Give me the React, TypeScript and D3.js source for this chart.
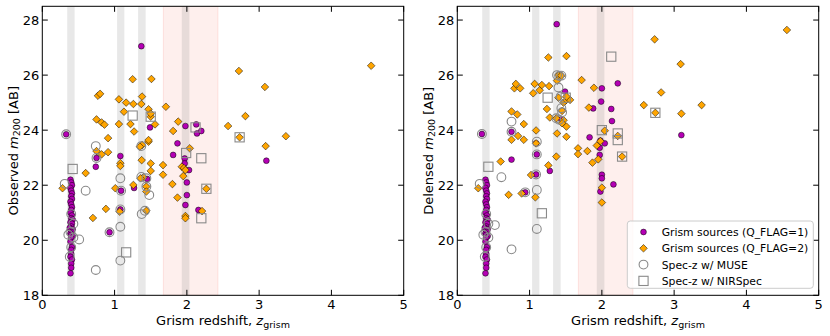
import React from "react";
import * as d3 from "d3";

// ---------- DATA ----------
const xTicks = [0, 1, 2, 3, 4, 5];
const yTicks = [18, 20, 22, 24, 26, 28];
const grayBands: [number, number][] = [[0.345, 0.447], [1.035, 1.135], [1.325, 1.43], [1.93, 2.035]];
const pinkBand: [number, number] = [1.675, 2.43];

// low-z cluster (same population in both panels)
const clusterQ1: [number, number][] = [
  [0.39, 22.2], [0.40, 22.1], [0.41, 22.0], [0.39, 21.9], [0.40, 21.8], [0.41, 21.7], [0.40, 21.6],
  [0.41, 21.5], [0.39, 21.4], [0.40, 21.3], [0.41, 21.2], [0.40, 21.1], [0.39, 21.0], [0.41, 20.9],
  [0.40, 20.8], [0.42, 20.75], [0.39, 20.65], [0.41, 20.6], [0.40, 20.5], [0.38, 20.45], [0.42, 20.4],
  [0.40, 20.35], [0.41, 20.3], [0.39, 20.25], [0.40, 20.2], [0.42, 20.15], [0.40, 20.1], [0.39, 19.95],
  [0.41, 19.75], [0.40, 19.65], [0.40, 19.5], [0.39, 19.4], [0.41, 19.3], [0.40, 19.15], [0.40, 19.0],
  [0.39, 18.8],
];
const clusterMuse: [number, number][] = [
  [0.31, 22.05], [0.40, 20.95], [0.43, 20.6], [0.39, 20.3], [0.36, 20.2], [0.43, 20.1],
  [0.40, 19.75], [0.38, 19.4],
];

// Left panel: observed magnitudes
const obsQ1: [number, number][] = [
  [0.33, 23.85], [0.75, 22.99], [0.74, 22.67], [0.93, 20.29], [1.08, 23.06], [1.09, 21.8], [1.08, 21.12],
  [1.27, 21.9], [1.37, 27.05], [1.45, 22.23], [1.49, 24.1], [1.87, 23.52], [1.81, 23.1], [1.98, 24.15],
  [1.97, 22.97], [1.97, 22.79], [2.03, 22.55], [2.0, 22.1], [2.0, 21.64], [1.98, 21.28], [2.13, 24.21],
  [2.14, 23.88], [2.2, 23.97], [2.16, 21.1], [3.1, 22.89],
];
const obsQ2: [number, number][] = [
  [0.28, 21.89], [0.60, 22.44], [0.70, 20.81], [0.75, 24.39], [0.77, 25.25], [0.80, 25.32], [0.75, 23.24],
  [0.82, 23.12], [0.82, 24.28], [0.86, 24.2], [0.91, 23.71], [0.91, 23.2], [0.88, 21.14], [1.01, 21.89],
  [1.06, 25.12], [1.06, 24.22], [1.08, 22.8], [1.08, 22.7], [1.07, 21.04], [1.13, 24.67], [1.16, 25.0],
  [1.22, 24.22], [1.25, 25.85], [1.26, 24.95], [1.27, 23.95], [1.26, 22.01], [1.37, 24.95], [1.38, 25.22],
  [1.375, 22.91], [1.38, 23.46], [1.47, 23.58], [1.35, 23.4], [1.40, 22.29], [1.36, 22.25], [1.47, 23.64],
  [1.47, 24.76], [1.50, 24.49], [1.50, 24.6], [1.51, 25.86], [1.56, 24.21], [1.50, 22.79], [1.50, 22.52],
  [1.44, 21.95], [1.44, 21.77], [1.44, 21.07], [1.67, 22.73], [1.67, 22.38], [1.71, 24.85], [1.81, 23.97],
  [1.88, 24.31], [1.80, 22.04], [1.87, 21.55], [1.93, 22.67], [1.96, 22.62], [1.95, 22.33], [1.98, 22.55],
  [1.98, 20.88], [1.98, 20.8], [2.04, 23.34], [2.21, 21.06], [2.27, 21.87], [2.72, 26.15], [3.08, 25.57],
  [2.81, 24.51], [2.57, 24.15], [2.73, 23.74], [3.37, 23.78], [3.09, 23.42], [4.55, 26.34],
];
const obsMuse: [number, number][] = [
  [0.33, 23.85], [0.51, 20.03], [0.60, 21.8], [0.74, 23.42], [0.75, 22.99], [0.74, 18.92], [0.93, 20.29],
  [1.08, 22.25], [1.09, 21.8], [1.08, 21.12], [1.08, 20.49], [1.08, 19.26], [1.37, 23.42], [1.37, 22.3],
  [1.44, 22.25], [1.44, 21.95], [1.48, 21.64], [1.42, 21.07], [1.375, 20.95],
];
const obsNirspec: [number, number][] = [
  [0.42, 22.59], [1.16, 19.56], [1.25, 24.53], [1.50, 24.49], [1.99, 23.17], [2.12, 24.1], [2.20, 22.98],
  [2.20, 20.8], [2.27, 21.87], [2.73, 23.74],
];

// Right panel: delensed magnitudes
const delQ1: [number, number][] = [
  [0.34, 23.86], [0.75, 23.94], [0.75, 22.93], [0.94, 21.74], [1.09, 23.52], [1.10, 23.12], [1.09, 22.39],
  [1.28, 22.52], [1.375, 27.85], [1.49, 25.4], [1.44, 24.39], [1.83, 23.74], [1.88, 24.79], [2.0, 25.52],
  [1.99, 25.04], [1.98, 23.62], [2.04, 23.52], [1.97, 23.36], [1.97, 23.1], [2.0, 22.38], [2.0, 22.25],
  [1.98, 21.77], [2.16, 22.03], [2.13, 24.77], [2.14, 24.33], [2.22, 25.7], [3.10, 23.82],
];
const delQ2: [number, number][] = [
  [0.29, 21.89], [0.60, 22.86], [0.71, 21.65], [0.75, 24.68], [0.75, 23.65], [0.79, 25.52], [0.81, 25.68],
  [0.83, 24.57], [0.84, 23.79], [0.87, 25.52], [0.92, 24.22], [0.92, 23.65], [0.89, 21.7], [1.02, 22.37],
  [1.07, 25.68], [1.05, 25.34], [1.09, 23.99], [1.09, 23.52], [1.08, 21.56], [1.14, 25.45], [1.17, 25.64],
  [1.24, 24.77], [1.26, 26.64], [1.27, 25.6], [1.28, 24.46], [1.26, 22.72], [1.37, 23.04], [1.38, 23.88],
  [1.37, 24.43], [1.40, 26.0], [1.38, 25.8], [1.44, 25.98], [1.40, 25.18], [1.45, 24.7], [1.47, 24.36],
  [1.45, 24.25], [1.47, 25.0], [1.51, 23.76], [1.51, 24.13], [1.51, 26.69], [1.51, 25.1], [1.56, 25.1],
  [1.51, 25.22], [1.67, 23.34], [1.67, 23.13], [1.72, 25.82], [1.80, 23.24], [1.82, 24.82], [1.87, 22.82],
  [1.89, 25.54], [1.93, 23.44], [1.95, 22.94], [1.98, 23.6], [2.0, 21.91], [2.0, 21.37], [2.04, 23.98],
  [2.22, 23.79], [2.28, 23.04], [2.73, 27.3], [3.09, 26.4], [2.82, 25.37], [2.58, 24.91], [2.74, 24.63],
  [3.38, 24.91], [3.10, 24.6], [4.56, 27.64],
];
const delMuse: [number, number][] = [
  [0.34, 23.86], [0.52, 20.55], [0.61, 22.29], [0.75, 24.31], [0.75, 23.94], [0.75, 19.67], [0.94, 21.74],
  [1.10, 23.58], [1.10, 23.12], [1.09, 22.39], [1.10, 21.83], [1.10, 20.41], [1.38, 26.0], [1.41, 25.97],
  [1.44, 25.98], [1.40, 25.55], [1.43, 25.22], [1.44, 24.8], [1.45, 24.65], [1.37, 24.43], [1.41, 24.38],
];
const delNirspec: [number, number][] = [
  [0.43, 22.67], [1.17, 20.98], [1.25, 25.18], [1.50, 25.18], [2.13, 26.67], [2.00, 24.0], [2.22, 23.88],
  [2.22, 23.64], [2.28, 23.04], [2.74, 24.63],
];

const legendLabels = [
  "Grism sources (Q_FLAG=1)",
  "Grism sources (Q_FLAG=2)",
  "Spec-z w/ MUSE",
  "Spec-z w/ NIRSpec",
];

// ---------- STYLE ----------
const FONT = "DejaVu Sans, Verdana, sans-serif";
const PURPLE = "#b400b4";
const ORANGE = "#ffa500";
const RING = "#8a8a8a";
const TOP = 6.3;
const BOTTOM = 295.3;

const diamond = (s: number) => `M0,${-s}L${s},0L0,${s}L${-s},0Z`;

type PanelProps = {
  x0: number;
  x1: number;
  label: string;
  q1: [number, number][];
  q2: [number, number][];
  muse: [number, number][];
  nirspec: [number, number][];
  legend?: boolean;
};

function Panel({ x0, x1, label, q1, q2, muse, nirspec, legend }: PanelProps) {
  const x = d3.scaleLinear().domain([0, 5]).range([x0, x1]);
  const y = d3.scaleLinear().domain([18, 28.5]).range([BOTTOM, TOP]);
  const clipId = `clip-${Math.round(x0)}`;
  const allQ1 = [...clusterQ1, ...q1];
  const allMuse = [...clusterMuse, ...muse];
  const tl = 5.5;
  return (
    <g fontFamily={FONT}>
      <defs>
        <clipPath id={clipId}>
          <rect x={x0} y={TOP} width={x1 - x0} height={BOTTOM - TOP} />
        </clipPath>
      </defs>
      <g clipPath={`url(#${clipId})`}>
        <rect
          x={x(pinkBand[0])}
          y={TOP}
          width={x(pinkBand[1]) - x(pinkBand[0])}
          height={BOTTOM - TOP}
          fill="#fa8072"
          fillOpacity={0.13}
          stroke="#fa8072"
          strokeOpacity={0.18}
          strokeWidth={1}
        />
        {grayBands.map((b, i) => (
          <rect
            key={i}
            x={x(b[0])}
            y={TOP}
            width={x(b[1]) - x(b[0])}
            height={BOTTOM - TOP}
            fill="#808080"
            fillOpacity={0.18}
          />
        ))}
        {allQ1.map((d, i) => (
          <circle key={`p${i}`} cx={x(d[0])} cy={y(d[1])} r={2.9} fill={PURPLE} stroke="#000" strokeWidth={0.5} />
        ))}
        {q2.map((d, i) => (
          <path
            key={`o${i}`}
            d={diamond(3.8)}
            transform={`translate(${x(d[0])},${y(d[1])})`}
            fill={ORANGE}
            stroke="#000"
            strokeWidth={0.5}
          />
        ))}
        {allMuse.map((d, i) => (
          <circle key={`m${i}`} cx={x(d[0])} cy={y(d[1])} r={4.4} fill="none" stroke={RING} strokeWidth={1.1} />
        ))}
        {nirspec.map((d, i) => (
          <rect
            key={`n${i}`}
            x={x(d[0]) - 4.6}
            y={y(d[1]) - 4.6}
            width={9.2}
            height={9.2}
            fill="none"
            stroke={RING}
            strokeWidth={1.1}
          />
        ))}
      </g>
      {/* frame */}
      <rect x={x0} y={TOP} width={x1 - x0} height={BOTTOM - TOP} fill="none" stroke="#000" strokeWidth={1} />
      {/* x ticks */}
      {xTicks.map((t) => (
        <g key={`xt${t}`}>
          <line x1={x(t)} x2={x(t)} y1={BOTTOM} y2={BOTTOM - tl} stroke="#000" strokeWidth={1} />
          <line x1={x(t)} x2={x(t)} y1={TOP} y2={TOP + tl} stroke="#000" strokeWidth={1} />
          <text x={x(t)} y={308.5} fontSize={13} textAnchor="middle" fill="#000">
            {t}
          </text>
        </g>
      ))}
      {/* y ticks */}
      {yTicks.map((t) => (
        <g key={`yt${t}`}>
          <line x1={x0} x2={x0 + tl} y1={y(t)} y2={y(t)} stroke="#000" strokeWidth={1} />
          <line x1={x1} x2={x1 - tl} y1={y(t)} y2={y(t)} stroke="#000" strokeWidth={1} />
          <text x={x0 - 3} y={y(t) + 4.7} fontSize={13} textAnchor="end" fill="#000">
            {t}
          </text>
        </g>
      ))}
      {/* x label */}
      <text x={(x0 + x1) / 2} y={325} fontSize={13} textAnchor="middle" fill="#000">
        Grism redshift,{" "}
        <tspan fontStyle="italic">z</tspan>
        <tspan fontSize={9.5} dy={2.5}>grism</tspan>
      </text>
      {/* y label */}
      <text
        transform={`translate(${x0 - 24.5},${(TOP + BOTTOM) / 2}) rotate(-90)`}
        fontSize={13}
        textAnchor="middle"
        fill="#000"
      >
        {label}{" "}
        <tspan fontStyle="italic">m</tspan>
        <tspan fontSize={9.5} dy={2.5}>200</tspan>
        <tspan dy={-2.5}> [AB]</tspan>
      </text>
      {legend && (
        <g>
          <rect x={627.3} y={221} width={186} height={67.3} rx={3} fill="#fff" fillOpacity={0.8} stroke="#cccccc" strokeWidth={1} />
          {legendLabels.map((l, i) => {
            const cy = 232 + i * 16.3;
            const mx = 643.5;
            return (
              <g key={l}>
                {i === 0 && <circle cx={mx} cy={cy} r={2.9} fill={PURPLE} stroke="#000" strokeWidth={0.5} />}
                {i === 1 && (
                  <path d={diamond(3.8)} transform={`translate(${mx},${cy})`} fill={ORANGE} stroke="#000" strokeWidth={0.5} />
                )}
                {i === 2 && <circle cx={mx} cy={cy} r={4.4} fill="none" stroke={RING} strokeWidth={1.1} />}
                {i === 3 && (
                  <rect x={mx - 4.6} y={cy - 4.6} width={9.2} height={9.2} fill="none" stroke={RING} strokeWidth={1.1} />
                )}
                <text x={661.7} y={cy + 4} fontSize={10.8} fill="#000">
                  {l}
                </text>
              </g>
            );
          })}
        </g>
      )}
    </g>
  );
}

export default function App() {
  return (
    <svg
      width={830}
      height={336}
      viewBox="0 0 830 336"
      style={{ position: "absolute", left: 0, top: 0, background: "#fff" }}
    >
      <rect width={830} height={336} fill="#fff" />
      <Panel x0={42.3} x1={403.7} label="Observed" q1={obsQ1} q2={obsQ2} muse={obsMuse} nirspec={obsNirspec} />
      <Panel x0={457.3} x1={818.7} label="Delensed" q1={delQ1} q2={delQ2} muse={delMuse} nirspec={delNirspec} legend />
    </svg>
  );
}
